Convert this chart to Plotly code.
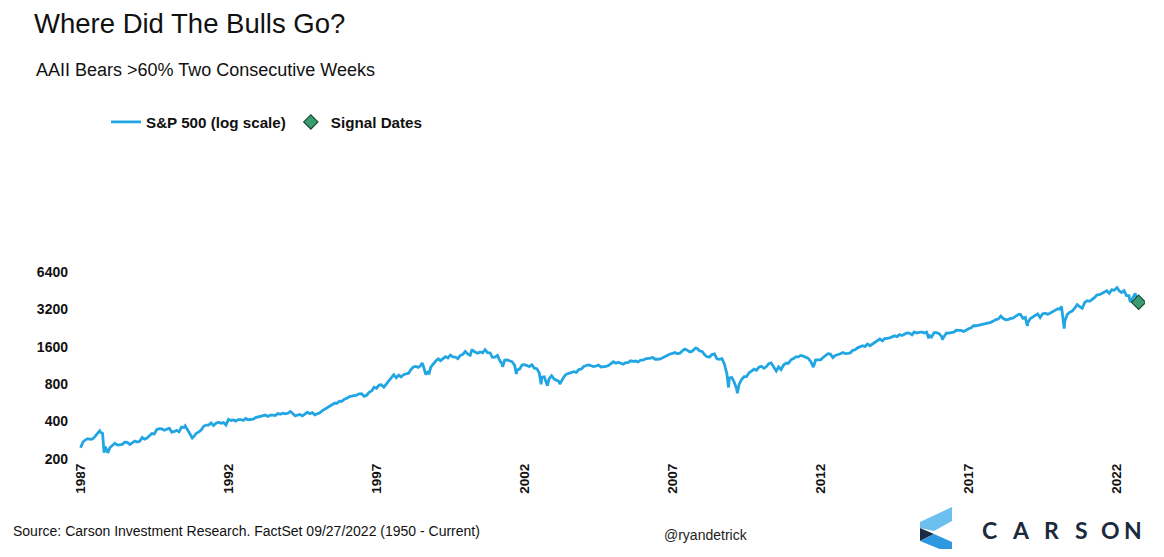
import pandas as pd
import plotly.graph_objects as go

# ---------------- data (S&P 500 month-end closes, read/estimated) ----------------
sp1987 = [274.08, 284.20, 291.70, 288.36, 290.10, 304.00, 318.66, 329.80, 321.83, 251.79, 230.30, 247.08]
sp1988 = [257.07, 267.82, 258.89, 261.33, 262.16, 273.50, 272.02, 261.52, 271.91, 278.97, 273.70, 277.72]
sp1989 = [297.47, 288.86, 294.87, 309.64, 320.52, 317.98, 346.08, 351.45, 349.15, 340.36, 345.99, 353.40]
sp1990 = [329.08, 331.89, 339.94, 330.80, 361.23, 358.02, 356.15, 322.56, 306.05, 304.00, 322.22, 330.22]
sp1991 = [343.93, 367.07, 375.22, 375.35, 389.83, 371.16, 387.81, 395.43, 387.86, 392.45, 375.22, 417.09]
sp1992 = [408.79, 412.70, 403.69, 414.95, 415.35, 408.14, 424.21, 414.03, 417.80, 418.68, 431.35, 435.71]
sp1993 = [438.78, 443.38, 451.67, 440.19, 450.19, 450.53, 448.13, 463.56, 458.93, 467.83, 461.79, 466.45]
sp1994 = [481.61, 467.14, 445.77, 450.91, 456.50, 444.27, 458.26, 475.49, 462.69, 472.35, 453.69, 459.27]
sp1995 = [470.42, 487.39, 500.71, 514.71, 533.40, 544.75, 562.06, 561.88, 584.41, 581.50, 605.37, 615.93]
sp1996 = [636.02, 640.43, 645.50, 654.17, 669.12, 670.63, 639.95, 651.99, 687.33, 705.27, 757.02, 740.74]
sp1997 = [786.16, 790.82, 757.12, 801.34, 848.28, 885.14, 954.31, 899.47, 947.28, 914.62, 955.40, 970.43]
sp1998 = [980.28, 1049.34, 1101.75, 1111.75, 1090.82, 1133.84, 1120.67, 957.28, 1017.01, 1098.67, 1163.63, 1229.23]
sp1999 = [1279.64, 1238.33, 1286.37, 1335.18, 1301.84, 1372.71, 1328.72, 1320.41, 1282.71, 1362.93, 1388.91, 1469.25]
sp2000 = [1394.46, 1366.42, 1498.58, 1452.43, 1420.60, 1454.60, 1430.83, 1517.68, 1436.51, 1429.40, 1314.95, 1320.28]
sp2001 = [1366.01, 1239.94, 1160.33, 1249.46, 1255.82, 1224.42, 1211.23, 1133.58, 1040.94, 1059.78, 1139.45, 1148.08]
sp2002 = [1130.20, 1106.73, 1147.39, 1076.92, 1067.14, 989.82, 911.62, 916.07, 815.28, 885.76, 936.31, 879.82]
sp2003 = [855.70, 841.15, 848.18, 916.92, 963.59, 974.50, 990.31, 1008.01, 995.97, 1050.71, 1058.20, 1111.92]
sp2004 = [1131.13, 1144.94, 1126.21, 1107.30, 1120.68, 1140.84, 1101.72, 1104.24, 1114.58, 1130.20, 1173.82, 1211.92]
sp2005 = [1181.27, 1203.60, 1180.59, 1156.85, 1191.50, 1191.33, 1234.18, 1220.33, 1228.81, 1207.01, 1249.48, 1248.29]
sp2006 = [1280.08, 1280.66, 1294.83, 1310.61, 1270.09, 1270.20, 1276.66, 1303.82, 1335.85, 1377.94, 1400.63, 1418.30]
sp2007 = [1438.24, 1406.82, 1420.86, 1482.37, 1530.62, 1503.35, 1455.27, 1473.99, 1526.75, 1549.38, 1481.14, 1468.36]
sp2008 = [1378.55, 1330.63, 1322.70, 1385.59, 1400.38, 1280.00, 1267.38, 1282.83, 1166.36, 968.75, 896.24, 903.25]
sp2009 = [825.88, 735.09, 797.87, 872.81, 919.14, 919.32, 987.48, 1020.62, 1057.08, 1036.19, 1095.63, 1115.10]
sp2010 = [1073.87, 1104.49, 1169.43, 1186.69, 1089.41, 1030.71, 1101.60, 1049.33, 1141.20, 1183.26, 1180.55, 1257.64]
sp2011 = [1286.12, 1327.22, 1325.83, 1363.61, 1345.20, 1320.64, 1292.28, 1218.89, 1131.42, 1253.30, 1246.96, 1257.60]
sp2012 = [1312.41, 1365.68, 1408.47, 1397.91, 1310.33, 1362.16, 1379.32, 1406.58, 1440.67, 1412.16, 1416.18, 1426.19]
sp2013 = [1498.11, 1514.68, 1569.19, 1597.57, 1630.74, 1606.28, 1685.73, 1632.97, 1681.55, 1756.54, 1805.81, 1848.36]
sp2014 = [1782.59, 1859.45, 1872.34, 1883.95, 1923.57, 1960.23, 1930.67, 2003.37, 1972.29, 2018.05, 2067.56, 2058.90]
sp2015 = [1994.99, 2104.50, 2067.89, 2085.51, 2107.39, 2063.11, 2103.84, 1972.18, 1920.03, 2079.36, 2080.41, 2043.94]
sp2016 = [1940.24, 1932.23, 2059.74, 2065.30, 2096.95, 2098.86, 2173.60, 2170.95, 2168.27, 2126.15, 2198.81, 2238.83]
sp2017 = [2278.87, 2363.64, 2362.72, 2384.20, 2411.80, 2423.41, 2470.30, 2471.65, 2519.36, 2575.26, 2647.58, 2673.61]
sp2018 = [2823.81, 2713.83, 2640.87, 2648.05, 2705.27, 2718.37, 2816.29, 2901.52, 2913.98, 2711.74, 2760.17, 2506.85]
sp2019 = [2704.10, 2784.49, 2834.40, 2945.83, 2752.06, 2941.76, 2980.38, 2926.46, 2976.74, 3037.56, 3140.98, 3230.78]
sp2020 = [3225.52, 2954.22, 2584.59, 2912.43, 3044.31, 3100.29, 3271.12, 3500.31, 3363.00, 3269.96, 3621.63, 3756.07]
sp2021 = [3714.24, 3811.15, 3972.89, 4181.17, 4204.11, 4297.50, 4395.26, 4522.68, 4307.54, 4605.38, 4567.00, 4766.18]
sp2022 = [4515.55, 4373.94, 4530.41, 4131.93, 4132.15, 3785.38, 4130.29, 3955.00]

# notable intra-month closes (weekly/daily extremes)
extra_dates = ["1987-01-02", "1987-08-25", "1987-10-19", "1987-12-04", "1990-07-16", "1990-10-11",
               "1994-02-02", "1998-07-17", "1998-10-08", "2000-03-24", "2001-04-04", "2001-09-21",
               "2002-07-23", "2002-10-09", "2003-03-11", "2007-10-09", "2008-11-20", "2009-03-09",
               "2010-07-02", "2011-10-03", "2015-08-25", "2016-02-11", "2018-09-20", "2018-12-24",
               "2020-02-19", "2020-03-23", "2022-01-03", "2022-06-16", "2022-08-16", "2022-09-27"]
extra_values = [246.45, 336.77, 224.84, 223.92, 369.78, 295.46,
                482.00, 1186.75, 959.44, 1527.46, 1103.25, 965.80,
                797.70, 776.76, 800.73, 1565.15, 752.44, 676.53,
                1022.58, 1099.23, 1867.61, 1829.08, 2930.75, 2351.10,
                3386.15, 2237.40, 4796.56, 3666.77, 4305.20, 3647.29]

signal_dates = ["2022-09-27"]
signal_values = [3647.29]

yearly = [sp1987, sp1988, sp1989, sp1990, sp1991, sp1992, sp1993, sp1994, sp1995, sp1996,
          sp1997, sp1998, sp1999, sp2000, sp2001, sp2002, sp2003, sp2004, sp2005, sp2006,
          sp2007, sp2008, sp2009, sp2010, sp2011, sp2012, sp2013, sp2014, sp2015, sp2016,
          sp2017, sp2018, sp2019, sp2020, sp2021, sp2022]
first_year = 1987

tick_years = [1987, 1992, 1997, 2002, 2007, 2012, 2017, 2022]
y_ticks = [200, 400, 800, 1600, 3200, 6400]

# ---------------- assemble series ----------------
rows = []
for i, vals in enumerate(yearly):
    yr = first_year + i
    for m, v in enumerate(vals):
        d = pd.Timestamp(yr, m + 1, 1) + pd.offsets.MonthEnd(0)
        rows.append((d, v))
for d, v in zip(extra_dates, extra_values):
    rows.append((pd.Timestamp(d), v))
df = pd.DataFrame(rows, columns=["date", "value"]).drop_duplicates("date").sort_values("date")

# ---------------- layout helpers ----------------
# page body adds an 8px offset; work in page (window) pixel coordinates
OX, OY = 8, 8
W, H = 1148, 541
PL, PT, PR, PB = 78, 267, 1145, 460          # plot area in window pixels
L, T = PL - OX, PT - OY
R, B = W - (PR - OX), H - (PB - OY)
PW, PH = W - L - R, H - T - B


def px(x):
    return (x - OX - L) / PW


def py(y):
    return (H - B - (y - OY)) / PH


FONT = "Arial, Liberation Sans, sans-serif"

fig = go.Figure()
fig.add_trace(go.Scatter(
    x=df["date"], y=df["value"], mode="lines", name="S&P 500 (log scale)",
    line=dict(color="#22a5e3", width=2.8),
))
fig.add_trace(go.Scatter(
    x=pd.to_datetime(signal_dates), y=signal_values, mode="markers", name="Signal Dates",
    marker=dict(symbol="diamond", size=11, color="#3a9c70", line=dict(color="#1b4a38", width=1.2)),
))

annotations = [
    dict(text="Where Did The Bulls Go?", x=px(32), y=py(23), font=dict(size=27.5, color="#111111")),
    dict(text="AAII Bears >60% Two Consecutive Weeks", x=px(34), y=py(70), font=dict(size=18, color="#111111")),
    dict(text="Source: Carson Investment Research. FactSet 09/27/2022 (1950 - Current)", x=px(11), y=py(531),
         font=dict(size=14, color="#111111")),
    dict(text="@ryandetrick", x=px(662), y=py(535), font=dict(size=14, color="#222222")),
]
for a in annotations:
    a.update(xref="paper", yref="paper", xanchor="left", yanchor="middle", showarrow=False)

logo_letters = ["C", "A", "R", "S", "O", "N"]
logo_x = [989, 1021, 1051, 1081, 1110, 1133]
for ch, lx in zip(logo_letters, logo_x):
    annotations.append(dict(text=ch, x=px(lx), y=py(530), xref="paper", yref="paper",
                            xanchor="center", yanchor="middle", showarrow=False,
                            font=dict(size=23, color="#1c2a3e", family="Lato, Arial, sans-serif", weight=700)))


def poly(points, color):
    path = "M " + " L ".join(f"{px(x):.5f},{py(y):.5f}" for x, y in points) + " Z"
    return dict(type="path", path=path, xref="paper", yref="paper", fillcolor=color, line=dict(width=0))


shapes = [
    poly([(920, 522), (952, 507), (952, 521), (934, 531), (920, 528)], "#6cc0f0"),
    poly([(920, 528), (934, 534), (920, 541)], "#1b2c45"),
    poly([(934, 534), (952, 542), (952, 554), (920, 541)], "#2f97e0"),
]

fig.update_layout(
    width=W, height=H,
    margin=dict(l=L, r=R, t=T, b=B, pad=0),
    paper_bgcolor="white", plot_bgcolor="white",
    font=dict(family=FONT, color="#111111"),
    showlegend=True,
    legend=dict(orientation="h", x=px(106), y=py(122), xanchor="left", yanchor="middle",
                font=dict(size=15.2, color="#111111", weight="bold"), bgcolor="rgba(0,0,0,0)",
                itemwidth=30),
    annotations=annotations,
    shapes=shapes,
)
fig.update_xaxes(
    type="date", range=["1986-12-01", "2022-12-15"],
    tickvals=[pd.Timestamp(y, 1, 1) for y in tick_years], ticktext=[str(y) for y in tick_years],
    tickangle=-90, tickfont=dict(size=13.5, color="#111111", weight="bold"),
    showgrid=False, zeroline=False, showline=False, ticks="",
)
fig.update_yaxes(
    type="log", range=[2.2929, 3.8464],
    tickvals=y_ticks, ticktext=[str(v) for v in y_ticks],
    tickfont=dict(size=14, color="#111111", weight="bold"),
    showgrid=False, zeroline=False, showline=False, ticks="", ticklabelstandoff=9,
)

fig.write_html("out.html")
